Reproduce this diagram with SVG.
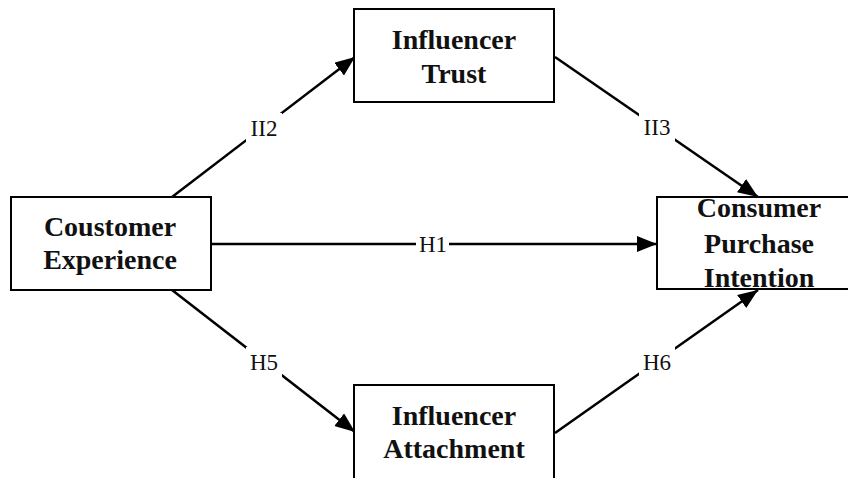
<svg xmlns="http://www.w3.org/2000/svg" width="848" height="478" viewBox="0 0 848 478">
<style>
.box{fill:#fff;stroke:#000;stroke-width:2}
.nt{font-family:"Liberation Serif","Times New Roman",serif;font-weight:bold;font-size:28px;text-anchor:middle;fill:#111}
.lbl{font-family:"Liberation Serif","Times New Roman",serif;font-size:23px;text-anchor:middle;fill:#111}
.ln{stroke:#000;stroke-width:2.5;fill:none;marker-end:url(#ah)}
.bg{fill:#fff}
</style>
<defs>
<marker id="ah" markerUnits="userSpaceOnUse" markerWidth="22" markerHeight="18" refX="20" refY="8" orient="auto">
<path d="M0,0 L20,8 L0,16 z" fill="#000"/>
</marker>
</defs>
<g id="connectors">
<line class="ln" x1="172" y1="197" x2="355" y2="57"/>
<line class="ln" x1="555" y1="57" x2="758" y2="197"/>
<line class="ln" x1="211" y1="244" x2="657" y2="244"/>
<line class="ln" x1="172" y1="290" x2="355" y2="432"/>
<line class="ln" x1="555" y1="433" x2="758" y2="290"/>
<rect class="bg" x="246" y="113" width="36" height="30"/>
<text class="lbl" x="264" y="136">II2</text>
<rect class="bg" x="639" y="112" width="36" height="30"/>
<text class="lbl" x="657" y="135">II3</text>
<rect class="bg" x="416" y="232" width="33" height="24"/>
<text class="lbl" x="433" y="252">H1</text>
<rect class="bg" x="246" y="347" width="36" height="30"/>
<text class="lbl" x="264" y="370">H5</text>
<rect class="bg" x="639" y="347" width="36" height="30"/>
<text class="lbl" x="657" y="370">H6</text>
</g>
<g id="ce">
<rect class="box" x="11" y="197" width="200" height="93"/>
<text class="nt" x="110" y="236">Coustomer</text>
<text class="nt" x="110" y="269">Experience</text>
</g>
<g id="it">
<rect class="box" x="354" y="9" width="200" height="93"/>
<text class="nt" x="454" y="49">Influencer</text>
<text class="nt" x="454" y="83">Trust</text>
</g>
<g id="cpi">
<rect class="box" x="657" y="197" width="204" height="92"/>
<text class="nt" x="759" y="217">Consumer</text>
<text class="nt" x="759" y="253">Purchase</text>
<text class="nt" x="759" y="287">Intention</text>
</g>
<g id="ia">
<rect class="box" x="354" y="385" width="200" height="110"/>
<text class="nt" x="454" y="425">Influencer</text>
<text class="nt" x="454" y="458">Attachment</text>
</g>
</svg>
